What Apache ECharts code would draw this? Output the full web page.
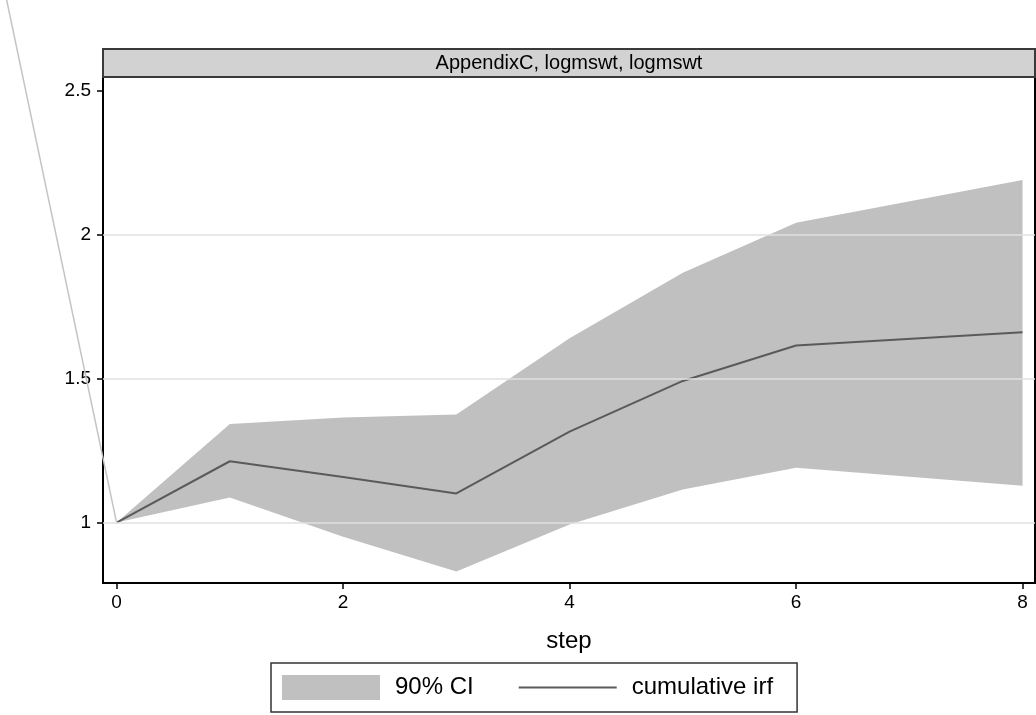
<!DOCTYPE html>
<html>
<head>
<meta charset="utf-8">
<script src="https://cdn.jsdelivr.net/npm/echarts@6/dist/echarts.min.js"></script>
<style>
  html, body { margin: 0; padding: 0; background: #fff; }
  #chart { width: 1036px; height: 715px; }
</style>
</head>
<body>
<div id="chart"></div>
<script>
// Cumulative impulse response with 90% confidence band
const steps = [0, 1, 2, 3, 4, 5, 6, 8];
const irf   = [1, 1.213, 1.158, 1.101, 1.316, 1.492, 1.615, 1.661];
const upper = [1, 1.342, 1.365, 1.375, 1.640, 1.868, 2.042, 2.190];
const lower = [1, 1.087, 0.951, 0.830, 0.993, 1.115, 1.190, 1.128];
const strayLine = [[0, 1], [-1, 2.87]];
const xTicks = [0, 2, 4, 6, 8];
const yTicks = [1, 1.5, 2, 2.5];
const gridValues = [1, 1.5, 2];
const panelTitle = 'AppendixC, logmswt, logmswt';

const FONT = '"Liberation Sans", Arial, sans-serif';
const irfData = steps.map((s, i) => [s, irf[i]]);

const chart = echarts.init(document.getElementById('chart'), null, { renderer: 'canvas' });

// Band polygon: upper bound left to right, then lower bound back
function renderBand(params, api) {
  const pts = [];
  for (let i = 0; i < steps.length; i++) pts.push(api.coord([steps[i], upper[i]]));
  for (let i = steps.length - 1; i >= 0; i--) pts.push(api.coord([steps[i], lower[i]]));
  return {
    type: 'polygon',
    shape: { points: pts },
    style: { fill: '#c0c0c0', stroke: null }
  };
}

function renderStray(params, api) {
  const a = api.coord(strayLine[0]);
  const b = api.coord(strayLine[1]);
  return {
    type: 'line',
    shape: { x1: a[0], y1: a[1], x2: b[0], y2: b[1] },
    style: { stroke: '#c4c4c4', lineWidth: 1.5 }
  };
}

chart.setOption({
  animation: false,
  backgroundColor: '#ffffff',
  grid: {
    left: 103, top: 77, width: 932, height: 506,
    show: true, borderColor: '#000', borderWidth: 2, backgroundColor: 'transparent'
  },
  xAxis: {
    type: 'value', min: -0.12, max: 8.11,
    name: 'step', nameLocation: 'middle', nameGap: 46,
    nameTextStyle: { fontFamily: FONT, fontSize: 24, color: '#000' },
    axisLine: { show: true, onZero: false, lineStyle: { color: '#000', width: 2 } },
    axisTick: { show: true, length: 6, customValues: xTicks, lineStyle: { color: '#000', width: 1.5 } },
    axisLabel: { customValues: xTicks, margin: 10, fontFamily: FONT, fontSize: 19, color: '#000' },
    splitLine: { show: false }
  },
  yAxis: {
    type: 'value', min: 0.79, max: 2.548,
    axisLine: { show: true, onZero: false, lineStyle: { color: '#000', width: 2 } },
    axisTick: { show: true, length: 6, customValues: yTicks, lineStyle: { color: '#000', width: 1.5 } },
    axisLabel: { customValues: yTicks, margin: 12, fontFamily: FONT, fontSize: 19, color: '#000',
                 formatter: v => String(v) },
    splitLine: { show: false }
  },
  legend: {
    left: 271, top: 663,
    padding: [12, 24, 12, 11],
    itemWidth: 98, itemHeight: 25, itemGap: 45,
    borderColor: '#333', borderWidth: 1.5, borderRadius: 0,
    textStyle: { fontFamily: FONT, fontSize: 24, color: '#000', padding: [0, 0, 0, 10] },
    data: [
      { name: '90% CI', icon: 'rect', itemStyle: { color: '#c0c0c0' } },
      { name: 'cumulative irf', icon: 'path://M0,0L98,0L98,2L0,2Z', itemStyle: { color: '#5a5a5a' } }
    ]
  },
  graphic: [
    {
      type: 'rect', z: 10,
      shape: { x: 103, y: 49, width: 932, height: 28 },
      style: { fill: '#d2d2d2', stroke: '#3a3a3a', lineWidth: 2 }
    },
    {
      type: 'text', z: 11,
      x: 569, y: 63,
      style: { text: panelTitle, font: '20px ' + FONT, fill: '#000', align: 'center', verticalAlign: 'middle' }
    }
  ],
  series: [
    {
      name: 'gridlines', type: 'line', data: [], z: 1, silent: true,
      markLine: {
        silent: true, symbol: 'none', label: { show: false },
        lineStyle: { color: '#e0e0e0', width: 1.5, type: 'solid' },
        data: gridValues.map(v => ({ yAxis: v }))
      }
    },
    {
      name: '90% CI', type: 'custom', data: [0], z: 2, silent: true,
      itemStyle: { color: '#c0c0c0' },
      renderItem: renderBand
    },
    {
      name: 'cumulative irf', type: 'line', data: irfData, z: 3,
      symbol: 'none', silent: true,
      itemStyle: { color: '#5a5a5a' },
      lineStyle: { color: '#5a5a5a', width: 2 }
    },
    {
      name: 'edge', type: 'custom', data: [0], z: 4, silent: true, clip: false,
      renderItem: renderStray
    }
  ]
});
</script>
</body>
</html>
